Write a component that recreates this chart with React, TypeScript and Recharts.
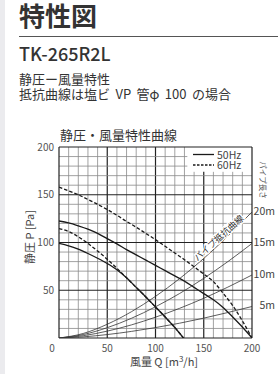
import React from 'react';
import { LineChart, Line, XAxis, YAxis, ReferenceLine, LabelList } from 'recharts';

const JP = '"Noto Sans CJK JP", "Noto Sans", sans-serif';

// 風量 Q [m3/h]
const flowQ = [0, 10, 20, 30, 40, 50, 60, 70, 80, 90, 100, 110, 120, 130, 140, 150, 160, 170, 180, 190, 200];
const high60Hz = [158, 154, 150, 145, 140, 134.5, 128.5, 122, 116, 109.5, 103, 96, 89, 82, 74.5, 67, 59, 47, 34, 18, 0];
const high50Hz = [122.5, 120.5, 117.5, 114, 109.5, 104, 98.5, 92.5, 87, 81.5, 76, 70.5, 65, 59.5, 53, 46.5, 40, 32, 22, 11.5, 0];

const lowFlowQ = [0, 10, 20, 30, 40, 50, 60, 70, 80, 90, 100, 110, 120, 129];
const low60Hz = [114.5, 111.5, 106, 99, 91, 82.5, 73, 63, 53, 43, 32.5, 22, 11, 0];
const low50Hz = [99, 96.5, 93, 88.5, 83.5, 78, 71.5, 63, 53, 43, 32.5, 22, 11, 0];

// パイプ抵抗曲線
const pipeQ = [0, 25, 50, 75, 100, 125, 150, 175, 200];
const pipe20m = [0, 4.7, 14.4, 27.5, 43.6, 62.2, 83.3, 106.7, 132];
const pipe15m = [0, 3.6, 10.8, 20.6, 32.7, 46.6, 62.5, 80, 99];
const pipe10m = [0, 2.4, 7.2, 13.7, 21.8, 31.1, 41.6, 53.3, 66];
const pipe5m = [0, 1.2, 3.6, 6.9, 10.9, 15.5, 20.8, 26.7, 33];
const pipeNames = ['20m', '15m', '10m', '5m'];

const gridValues = [10, 20, 30, 40, 50, 60, 70, 80, 90, 100, 110, 120, 130, 140, 150, 160, 170, 180, 190];
const borderValues = [0, 200];
const xTicks = [0, 50, 100, 150, 200];
const yTicks = [50, 100, 150, 200];
const legendNames = ['50Hz', '60Hz'];
// legend box corner in data units (grid lines stop there)
const legendQ = 133;
const legendP = 174;

const toPts = (qs: number[], ps: number[]) => qs.map((q, i) => ({ q, p: ps[i] }));

const XTick = (props: any) => {
  const { x, y, payload } = props;
  return (
    <text x={x + (payload.value === 0 ? -7 : 0)} y={y} dy={13.5} textAnchor="middle" fontSize={10} fill="#555" fontFamily={JP}>
      {payload.value}
    </text>
  );
};

const YTick = (props: any) => {
  const { x, y, payload } = props;
  return (
    <text x={x} y={y} dy={3.5} textAnchor="end" fontSize={10} fill="#555" fontFamily={JP}>
      {payload.value}
    </text>
  );
};

const pipeLabel = (name: string, withCurveName: boolean) => (props: any) => {
  const x = props.x ?? props.viewBox?.x;
  const y = props.y ?? props.viewBox?.y;
  const index = props.index;
  if (index === pipeQ.length - 1) {
    return (
      <text x={x + 23} y={y + 3} textAnchor="end" fontSize={10.5} fill="#444" fontFamily={JP}>
        {name}
      </text>
    );
  }
  if (withCurveName && index === 7) {
    return (
      <g transform={`translate(${x},${y}) rotate(-42)`}>
        <text x={-8} y={-1.5} textAnchor="middle" fontSize={9} fill="#333" fontFamily={JP}
          stroke="#fff" strokeWidth={2.5} paintOrder="stroke">
          パイプ抵抗曲線
        </text>
      </g>
    );
  }
  return null;
};

export default function App() {
  const thin = { stroke: '#8a8a8a', strokeWidth: 0.8 };
  const thick = { stroke: '#222', strokeWidth: 1.2 };
  return (
    <div style={{ position: 'absolute', left: 0, top: 0, width: 278, height: 374, background: '#fff', overflow: 'hidden', fontFamily: JP }}>
      <svg width={278} height={374} style={{ position: 'absolute', left: 0, top: 0 }}>
        <rect x={0} y={0} width={5} height={374} fill="#ebebee" />
        <text x={19} y={26} fontSize={26} fontWeight={700} fill="#333" fontFamily={JP}>特性図</text>
        <line x1={19} x2={278} y1={36.5} y2={36.5} stroke="#555" strokeWidth={1.2} />
        <text x={19} y={60.5} fontSize={18} fontWeight={500} fill="#333" fontFamily={JP}>TK-265R2L</text>
        <text x={19} y={84} fontSize={13} fill="#333" fontFamily={JP}>静圧ー風量特性</text>
        <text x={19} y={99} fontSize={13} fill="#333" fontFamily={JP} wordSpacing={2.5}>抵抗曲線は塩ビ VP 管φ 100 の場合</text>
        <text x={60} y={140} fontSize={13} fill="#333" fontFamily={JP}>静圧・風量特性曲線</text>
        <text transform="translate(30,237) rotate(-90)" textAnchor="middle" dy={4} fontSize={11} fill="#444" fontFamily={JP}>静圧 P [Pa]</text>
        <text x={164} y={366} textAnchor="middle" fontSize={11} fill="#444" fontFamily={JP}>
          風量 Q [m<tspan fontSize={8} dy={-4}>3</tspan><tspan dy={4}>/h]</tspan>
        </text>
        <text transform="translate(263,180) rotate(90)" textAnchor="middle" dy={3} fontSize={7.5} fill="#555" fontFamily={JP}>パイプ長さ</text>
      </svg>
      <div style={{ position: 'absolute', left: 0, top: 0 }}>
        <LineChart width={278} height={374} margin={{ top: 147, right: 26, bottom: 16, left: 29 }}>
          <XAxis dataKey="q" type="number" domain={[0, 200]} ticks={xTicks} height={20}
            axisLine={false} tickLine={false} tickSize={0} tickMargin={0} tick={<XTick />} allowDataOverflow />
          <YAxis type="number" domain={[0, 200]} ticks={yTicks} width={30}
            axisLine={false} tickLine={false} tickSize={0} tickMargin={5} tick={<YTick />} allowDataOverflow />
          {gridValues.map((v) => (
            <ReferenceLine key={`gx${v}`}
              segment={[{ x: v, y: 0 }, { x: v, y: v > legendQ ? legendP : 200 }]}
              {...(v % 50 === 0 ? thick : thin)} />
          ))}
          {gridValues.map((v) => (
            <ReferenceLine key={`gy${v}`}
              segment={[{ x: 0, y: v }, { x: v > legendP ? legendQ : 200, y: v }]}
              {...(v % 50 === 0 ? thick : thin)} />
          ))}
          {borderValues.map((v) => (
            <ReferenceLine key={`bx${v}`} x={v} {...thick} />
          ))}
          {borderValues.map((v) => (
            <ReferenceLine key={`by${v}`} y={v} {...thick} />
          ))}
          {[pipe20m, pipe15m, pipe10m, pipe5m].map((arr, i) => (
            <Line key={pipeNames[i]} data={toPts(pipeQ, arr)} dataKey="p" type="monotone"
              stroke="#333" strokeWidth={0.8} dot={false} isAnimationActive={false}>
              <LabelList dataKey="p" content={pipeLabel(pipeNames[i], i === 0)} />
            </Line>
          ))}
          <Line data={toPts(flowQ, high60Hz)} dataKey="p" type="monotone" stroke="#1a1a1a" strokeWidth={1.3}
            strokeDasharray="3.5 2" dot={false} isAnimationActive={false} />
          <Line data={toPts(flowQ, high50Hz)} dataKey="p" type="monotone" stroke="#1a1a1a" strokeWidth={1.3}
            dot={false} isAnimationActive={false} />
          <Line data={toPts(lowFlowQ, low60Hz)} dataKey="p" type="monotone" stroke="#1a1a1a" strokeWidth={1.3}
            strokeDasharray="3.5 2" dot={false} isAnimationActive={false} />
          <Line data={toPts(lowFlowQ, low50Hz)} dataKey="p" type="monotone" stroke="#1a1a1a" strokeWidth={1.3}
            dot={false} isAnimationActive={false} />
        </LineChart>
      </div>
      <svg width={64} height={24} style={{ position: 'absolute', left: 187, top: 148 }}>
        <line x1={6} x2={27} y1={6.5} y2={6.5} stroke="#1a1a1a" strokeWidth={1.3} />
        <text x={30} y={10.5} fontSize={10.5} fill="#444" fontFamily={JP}>{legendNames[0]}</text>
        <line x1={6} x2={27} y1={17} y2={17} stroke="#1a1a1a" strokeWidth={1.3} strokeDasharray="2.5 1.5" />
        <text x={30} y={21} fontSize={10.5} fill="#444" fontFamily={JP}>{legendNames[1]}</text>
      </svg>
    </div>
  );
}
